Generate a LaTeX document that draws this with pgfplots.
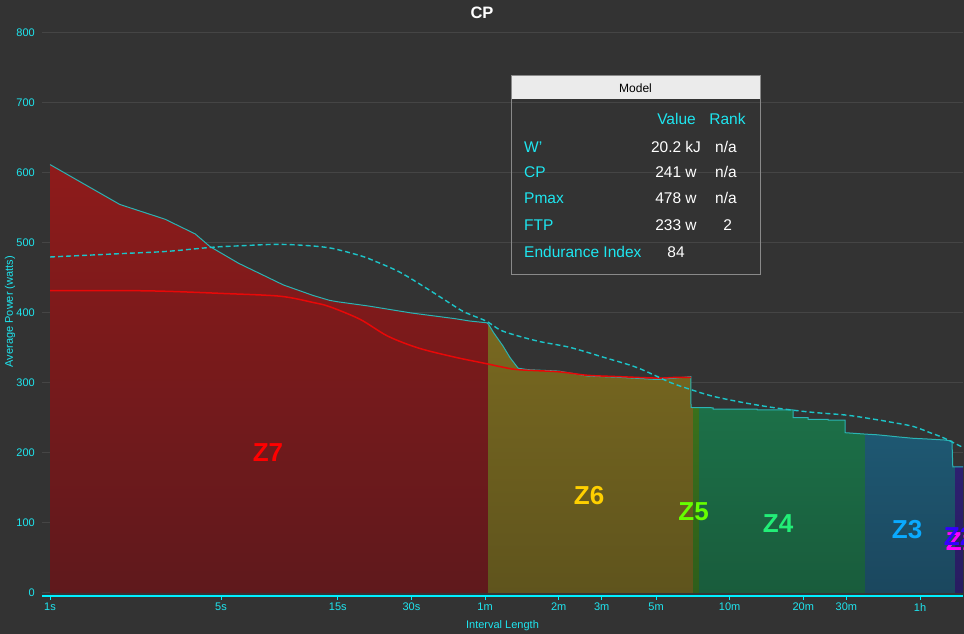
\documentclass[border=0pt]{standalone}
\usepackage{fontspec}
\setmainfont{Liberation Sans}
\usepackage{pgfplots}
\pgfplotsset{compat=1.18}
\usepackage{pgfplotstable}

\definecolor{bg}{HTML}{333333}
\definecolor{gridc}{HTML}{454545}
\definecolor{cyantxt}{HTML}{1EE6F0}
\definecolor{axcyan}{HTML}{00F0FF}
\definecolor{mmpline}{HTML}{2AB4B4}
\definecolor{modeldash}{HTML}{1CC4C8}
\definecolor{redline}{HTML}{E80808}
\definecolor{z7top}{HTML}{8E1B1B}
\definecolor{z7bot}{HTML}{5F191C}
\definecolor{z6top}{HTML}{786820}
\definecolor{z6bot}{HTML}{5F541D}
\definecolor{z5top}{HTML}{3A701C}
\definecolor{z5bot}{HTML}{2E5E1B}
\definecolor{z4top}{HTML}{1C7048}
\definecolor{z4bot}{HTML}{195C3C}
\definecolor{z3top}{HTML}{1E5872}
\definecolor{z3bot}{HTML}{1B475E}
\definecolor{z2top}{HTML}{2D2070}
\definecolor{z2bot}{HTML}{281C60}
\definecolor{z7c}{HTML}{FF0000}
\definecolor{z6c}{HTML}{FFD000}
\definecolor{z5c}{HTML}{66FF00}
\definecolor{z4c}{HTML}{22EE77}
\definecolor{z3c}{HTML}{0AAAFF}
\definecolor{z2c}{HTML}{3300FF}
\definecolor{z1c}{HTML}{FF00FF}
\definecolor{boxborder}{HTML}{8A8A8A}
\definecolor{headgray}{HTML}{EBEBEB}

\newcommand{\ticksize}{\fontsize{11}{13}\selectfont}
\newcommand{\zfont}{\fontsize{26}{26}\selectfont\bfseries}
\newcommand{\boxfont}{\fontsize{15.5}{17}\selectfont}

% mean maximal power, by zone
\pgfplotstableread{
t w
1 612
1.93 555
2.95 534
3.92 513
4.5 495
5.9 471
9.0 440
11.9 425
13.9 418
15 416
20 410
30 400
45 392
52 388.5
61 386
62 384
}\zseven
\pgfplotstableread{
t w
62 384
65 372
71 353
76 336
82 321
90 319
120 317
157 310
214 308
303 305
360 307
416 309
417 265
425 265
}\zsix
\pgfplotstableread{
t w
425 265
450 265
}\zfive
\pgfplotstableread{
t w
450 265
513 264.6
514 262.5
777 262.5
778 261.5
1090 261.5
1091 250.6
1255 250.6
1256 248
1516 248
1517 247
1777 247
1778 229
2146 227
}\zfour
\pgfplotstableread{
t w
2146 227
2405 226
2663 224.5
2926 223
3372 221
3848 220
4559 218.5
4862 217
4900 180
5006 180
}\zthree
\pgfplotstableread{
t w
5006 180
5394 180
}\ztwo
\pgfplotstableread{
t w
1 612
1.93 555
2.95 534
3.92 513
4.5 495
5.9 471
9.0 440
11.9 425
13.9 418
15 416
20 410
30 400
45 392
52 388.5
61 386
62 384
65 372
71 353
76 336
82 321
90 319
120 317
157 310
214 308
303 305
360 307
416 309
417 265
513 264.6
514 262.5
777 262.5
778 261.5
1090 261.5
1091 250.6
1255 250.6
1256 248
1516 248
1517 247
1777 247
1778 229
2146 227
2405 226
2663 224.5
2926 223
3372 221
3848 220
4559 218.5
4862 217
4900 180
5394 180
}\mmp
\pgfplotstableread{
t w
1 432
2 432
3 431
5 428
8.7 424
11.9 415
13.9 409
18.5 391
24 367
32 350
45 337
60 328
70 323
82 319
120 316
157 311
214 309
303 307
360 308
416 308
}\redcurve
\pgfplotstableread{
t w
1 480
2 485
3 488
4.64 494
6 496
8.16 498
10.5 497
13.9 493
18.5 482
21.3 474
27 458
35.8 432
47.3 405
52 398
61 388
71 374
98 360
133 351
182 337
251 322
342 301
413 291
513 281
707 271
964 263.5
1316 258
1811 254
2405 247.5
2794 243.5
3372 238
3958 229
4470 222
5250 210
5394 208
}\model

\begin{document}
\begin{tikzpicture}[x=1pt,y=1pt]
\fill[bg] (0,0) rectangle (964,634);
\begin{axis}[
  at={(42pt,38pt)}, anchor=south west,
  scale only axis, width=921pt, height=563pt,
  xmode=log, xmin=0.927, xmax=5394,
  ymin=-4.3, ymax=800,
  xtick={1,5,15,30,60,120,180,300,600,1200,1800,3600},
  xticklabels={1s,5s,15s,30s,1m,2m,3m,5m,10m,20m,30m,1h},
  xminorticks=false,
  ytick={0,100,...,800},
  ymajorgrids=true, xmajorgrids=false,
  grid style={color=gridc, line width=1pt},
  axis line style={draw=none},
  tick align=outside,
  xtick pos=bottom, ytick pos=left,
  major tick length=4pt,
  xtick style={axcyan, line width=1pt},
  ytick style={draw=none},
  /pgf/number format/assume math mode=true,
  xticklabel style={font=\ticksize, text=cyantxt, inner sep=0pt, anchor=north, yshift=-3pt},
  yticklabel style={font=\ticksize, text=cyantxt, inner sep=0pt, anchor=east, xshift=-3pt},
  xlabel={Interval Length},
  ylabel={Average Power (watts)},
  xlabel style={font=\ticksize, text=cyantxt, at={(axis description cs:0.5,-0.0533)}, anchor=center, inner sep=0pt},
  ylabel style={font=\ticksize, text=cyantxt, at={(axis description cs:-0.0347,0.505)}, anchor=center, inner sep=0pt},
]
\addplot[draw=none, top color=z7top, bottom color=z7bot] table[x=t,y=w] {\zseven} \closedcycle;
\addplot[draw=none, top color=z6top, bottom color=z6bot] table[x=t,y=w] {\zsix} \closedcycle;
\addplot[draw=none, top color=z5top, bottom color=z5bot] table[x=t,y=w] {\zfive} \closedcycle;
\addplot[draw=none, top color=z4top, bottom color=z4bot] table[x=t,y=w] {\zfour} \closedcycle;
\addplot[draw=none, top color=z3top, bottom color=z3bot] table[x=t,y=w] {\zthree} \closedcycle;
\addplot[draw=none, top color=z2top, bottom color=z2bot] table[x=t,y=w] {\ztwo} \closedcycle;
\addplot[mmpline, line width=1pt] table[x=t,y=w] {\mmp};
\addplot[redline, line width=1.5pt, smooth] table[x=t,y=w] {\redcurve};
\addplot[modeldash, line width=1.4pt, dash pattern=on 5pt off 3pt, smooth] table[x=t,y=w] {\model};
\node[font=\zfont, text=z7c] at (axis cs:7.78,200) {Z7};
\node[font=\zfont, text=z6c] at (axis cs:159.7,138.6) {Z6};
\node[font=\zfont, text=z5c] at (axis cs:427,115.7) {Z5};
\node[font=\zfont, text=z4c] at (axis cs:946,98.6) {Z4};
\node[font=\zfont, text=z3c] at (axis cs:3187,90) {Z3};
\node[font=\zfont, text=z1c] at (axis cs:5300,74) {Z1};
\node[font=\zfont, text=z2c] at (axis cs:5200,81) {Z2};
\end{axis}
% x axis line
\draw[axcyan, line width=1.2pt] (42,38) -- (963,38);
% title
\node[font=\fontsize{16.5}{18}\selectfont\bfseries, text=white] at (482,621) {CP};
% model box
\draw[boxborder, line width=1pt] (511,359) rectangle (760,558);
\fill[headgray] (511.5,535) rectangle (759.5,557.5);
\node[font=\fontsize{12}{14}\selectfont, text=black] at (635.5,546) {Model};
\begin{scope}[every node/.style={font=\boxfont, text height=11pt, text depth=0pt, inner sep=0pt}]
\node[text=cyantxt] at (676.5,514.7) {Value};
\node[text=cyantxt] at (727.5,514.7) {Rank};
\node[text=cyantxt, anchor=west] at (524,487.3) {W'};
\node[text=cyantxt, anchor=west] at (524,462.3) {CP};
\node[text=cyantxt, anchor=west] at (524,435.7) {Pmax};
\node[text=cyantxt, anchor=west] at (524,409) {FTP};
\node[text=cyantxt, anchor=west] at (524,382.3) {Endurance Index};
\node[text=white] at (676,487.3) {20.2 kJ};
\node[text=white] at (726,487.3) {n/a};
\node[text=white] at (676,462.3) {241 w};
\node[text=white] at (726,462.3) {n/a};
\node[text=white] at (676,435.7) {478 w};
\node[text=white] at (726,435.7) {n/a};
\node[text=white] at (676,409) {233 w};
\node[text=white] at (727.7,409) {2};
\node[text=white] at (676,382.3) {84};
\end{scope}
\pgfresetboundingbox
\path[use as bounding box] (0,0) rectangle (964,634);
\end{tikzpicture}
\end{document}
